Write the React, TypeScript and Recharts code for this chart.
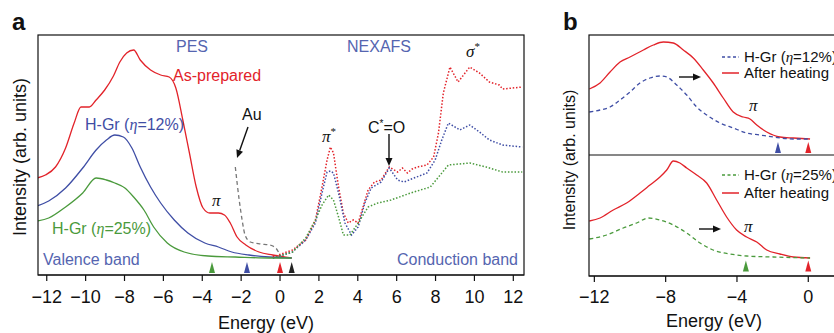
import React from 'react';
import { LineChart, Line, XAxis, YAxis, ReferenceDot } from 'recharts';

const FONT = '"Liberation Sans", Arial, Helvetica, sans-serif';
const SERIF = '"Liberation Serif", "Times New Roman", serif';

const RED = '#e2232a';
const BLUE = '#3f4ea5';
const GREEN = '#4a9a3c';
const LABEL_BLUE = '#5565b0';
const GRAY = '#777777';

// ---------- Panel a : PES (valence band) ----------
const pesRedE = [-12.5, -12.07, -11.55, -11.03, -10.59, -10.24, -9.81, -9.46, -9.02, -8.57, -8.24, -7.89, -7.53, -7.19, -6.66, -6.14, -5.7, -5.36, -5.0, -4.66, -4.31, -3.96, -3.61, -3.17, -2.86, -2.56, -2.21, -1.76, -1.08, -0.38, 0.6];
const pesRedI = [97, 100, 108, 127, 152, 168, 168, 175, 185, 199, 213, 222, 225, 215, 205, 200, 198, 187, 155, 122, 88, 67, 62, 62, 60, 52, 38, 30, 23, 20, 17];

const pesBlueE = [-12.5, -11.9, -11.03, -10.15, -9.46, -8.93, -8.5, -8.06, -7.62, -7.19, -6.66, -6.14, -5.44, -4.74, -3.87, -3.17, -2.48, -1.6, -0.55, 0.6];
const pesBlueI = [69, 74, 87, 107, 125, 135, 140, 138, 127, 108, 88, 72, 55, 42, 32, 28, 23, 20, 18, 17];

const pesGreenE = [-12.5, -11.9, -11.03, -10.15, -9.46, -8.93, -8.5, -7.98, -7.53, -7.0, -6.5, -5.8, -4.93, -3.7, -2.3, -0.55, 0.6];
const pesGreenI = [54, 57, 68, 82, 97, 95, 92, 87, 78, 65, 48, 32, 23, 19, 18, 17, 17];

const auE = [-2.3, -2.1, -1.95, -1.8, -1.53, -1.0, -0.54, -0.22, 0.04];
const auI = [108, 75, 55, 40, 33, 31, 30, 27, 18];

// ---------- Panel a : NEXAFS (conduction band) ----------
const nexRedE = [-0.37, 0.64, 1.32, 1.82, 2.16, 2.42, 2.59, 2.75, 3.01, 3.26, 3.51, 3.77, 4.02, 4.27, 4.53, 4.86, 5.2, 5.62, 6.05, 6.3, 6.55, 6.8, 7.06, 7.56, 7.9, 8.15, 8.4, 8.74, 9.16, 9.76, 10.26, 10.77, 11.28, 11.45, 11.95, 12.46];
const nexRedI = [18, 25, 35, 55, 88, 115, 128, 122, 88, 62, 52, 55, 52, 68, 85, 93, 95, 108, 103, 107, 102, 106, 108, 110, 118, 142, 182, 208, 193, 208, 202, 193, 190, 186, 187, 188];

const nexBlueE = [-0.37, 0.64, 1.32, 1.82, 2.16, 2.42, 2.59, 2.75, 3.01, 3.34, 3.68, 4.02, 4.36, 4.69, 5.2, 5.62, 6.05, 6.38, 6.89, 7.56, 7.98, 8.32, 8.66, 9.25, 9.76, 10.26, 10.77, 11.45, 12.46];
const nexBlueI = [17, 23, 35, 52, 82, 103, 104, 102, 82, 52, 40, 48, 72, 87, 93, 107, 95, 93, 97, 102, 115, 135, 152, 145, 150, 143, 135, 130, 128];

const nexGreenE = [-0.37, 0.64, 1.32, 1.82, 2.16, 2.5, 2.75, 3.01, 3.26, 3.6, 4.02, 4.53, 5.03, 5.71, 6.72, 7.73, 8.24, 8.66, 9.76, 10.6, 11.45, 12.46];
const nexGreenI = [17, 23, 37, 55, 70, 80, 75, 58, 40, 40, 52, 68, 72, 75, 82, 88, 100, 110, 112, 108, 103, 103];

const ticksA = [-12, -10, -8, -6, -4, -2, 0, 2, 4, 6, 8, 10, 12];
const markerEnergiesA = [-3.5, -1.7, 0, 0.6];
const markerColorsA = [GREEN, BLUE, RED, '#222222'];

// ---------- Panel b (top) : H-Gr 12% vs after heating ----------
const bTopRedE = [-12.28, -11.68, -11.12, -10.56, -10.0, -9.25, -8.69, -8.13, -7.57, -7.01, -6.45, -5.89, -5.33, -4.77, -4.21, -3.65, -3.27, -2.89, -2.33, -1.59, -0.84, 0.1];
const bTopRedI = [66, 72, 83, 93, 98, 105, 110, 113, 112, 105, 97, 85, 72, 57, 43, 38, 36, 30, 23, 18, 17, 16];
const bTopBlueE = [-12.28, -11.68, -11.12, -10.56, -10.0, -9.44, -8.88, -8.32, -7.94, -7.38, -6.82, -6.26, -5.7, -4.95, -4.21, -3.46, -2.71, -1.96, -0.84, 0.1];
const bTopBlueI = [43, 45, 48, 55, 63, 72, 77, 79, 78, 70, 60, 48, 40, 32, 27, 22, 20, 18, 16, 16];

// ---------- Panel b (bottom) : H-Gr 25% vs after heating ----------
const bBotRedE = [-12.28, -11.68, -10.94, -10.19, -9.44, -8.88, -8.32, -7.94, -7.57, -7.2, -6.82, -6.26, -5.7, -5.14, -4.58, -4.02, -3.46, -2.89, -2.33, -1.59, -0.84, 0.1];
const bBotRedI = [55, 58, 66, 73, 83, 91, 99, 106, 115, 113, 108, 101, 93, 76, 59, 46, 39, 34, 26, 22, 19, 18];
const bBotGreenE = [-12.28, -11.31, -10.38, -9.63, -8.97, -8.32, -7.57, -6.82, -6.07, -5.33, -4.39, -3.46, -1.96, 0.1];
const bBotGreenI = [37, 41, 48, 53, 58, 56, 51, 43, 33, 26, 22, 20, 19, 18];

const ticksB = [-12, -8, -4, 0];
const markerEnergiesBTop = [-1.7, 0];
const markerColorsBTop = [BLUE, RED];
const markerEnergiesBBot = [-3.5, 0];
const markerColorsBBot = [GREEN, RED];

const zip = (e: number[], v: number[]) => e.map((x, i) => ({ x, y: v[i] }));
const fmt = (v: number) => (v < 0 ? `\u2212${-v}` : `${v}`);

const tri = (color: string) => (p: any) => {
  const { cx, cy } = p;
  if (cx == null || cy == null) return <g />;
  return <path d={`M${cx},${cy - 5.5} L${cx + 3},${cy + 5.5} L${cx - 3},${cy + 5.5} Z`} fill={color} />;
};

const tickStyle = { fontSize: 18, fill: '#111', fontFamily: FONT };

const solid = (data: any[], color: string, key: string) => (
  <Line key={key} data={data} dataKey="y" type="monotone" dot={false} activeDot={false} stroke={color} strokeWidth={1.3} isAnimationActive={false} />
);
const dotted = (data: any[], color: string, key: string) => (
  <Line key={key} data={data} dataKey="y" type="linear" dot={false} activeDot={false} stroke={color} strokeWidth={1.5} strokeDasharray="1.5 1.8" isAnimationActive={false} />
);
const dashed = (data: any[], color: string, key: string) => (
  <Line key={key} data={data} dataKey="y" type="monotone" dot={false} activeDot={false} stroke={color} strokeWidth={1.3} strokeDasharray="4 3" isAnimationActive={false} />
);

const Arrow = ({ x1, y1, x2, y2 }: any) => {
  const a = Math.atan2(y2 - y1, x2 - x1);
  const L = 8, W = 3.5;
  const bx = x2 - L * Math.cos(a), by = y2 - L * Math.sin(a);
  const px = -Math.sin(a) * W, py = Math.cos(a) * W;
  return (
    <g>
      <line x1={x1} y1={y1} x2={bx} y2={by} stroke="#111" strokeWidth={1.4} />
      <path d={`M${x2},${y2} L${bx + px},${by + py} L${bx - px},${by - py} Z`} fill="#111" />
    </g>
  );
};

export default function App() {
  return (
    <div style={{ position: 'absolute', left: 0, top: 0, width: 834, height: 333, overflow: 'hidden', background: '#fff', fontFamily: FONT }}>
      {/* Panel a */}
      <div style={{ position: 'absolute', left: 0, top: 0 }}>
        <LineChart width={540} height={333} margin={{ top: 35, right: 16, bottom: 0, left: 38 }}>
          <XAxis dataKey="x" type="number" domain={[-12.45, 12.55]} ticks={ticksA} tickFormatter={fmt} allowDataOverflow
            height={58} tickSize={6} tickMargin={9} tick={tickStyle} axisLine={{ stroke: '#111', strokeWidth: 1.2 }} tickLine={{ stroke: '#111', strokeWidth: 1.2 }} />
          <YAxis type="number" domain={[0, 240]} hide width={0} allowDataOverflow />
          {solid(zip(pesRedE, pesRedI), RED, 'pr')}
          {solid(zip(pesBlueE, pesBlueI), BLUE, 'pb')}
          {solid(zip(pesGreenE, pesGreenI), GREEN, 'pg')}
          {dashed(zip(auE, auI), GRAY, 'au')}
          {dotted(zip(nexRedE, nexRedI), RED, 'nr')}
          {dotted(zip(nexBlueE, nexBlueI), BLUE, 'nb')}
          {dotted(zip(nexGreenE, nexGreenI), GREEN, 'ng')}
          {markerEnergiesA.map((e, i) => (
            <ReferenceDot key={'ma' + i} x={e} y={7.5} r={4} ifOverflow="visible" shape={tri(markerColorsA[i])} />
          ))}
        </LineChart>
      </div>

      {/* Panel b top */}
      <div style={{ position: 'absolute', left: 560, top: 0 }}>
        <LineChart width={300} height={160} margin={{ top: 35, right: 12.5, bottom: 0, left: 29 }}>
          <XAxis dataKey="x" type="number" domain={[-12.3, 2.2]} ticks={ticksB} allowDataOverflow
            height={5} tickSize={5} tick={false} axisLine={{ stroke: '#111', strokeWidth: 1.2 }} tickLine={{ stroke: '#111', strokeWidth: 1.2 }} />
          <YAxis type="number" domain={[0, 120]} hide width={0} allowDataOverflow />
          {solid(zip(bTopRedE, bTopRedI), RED, 'tr')}
          {dashed(zip(bTopBlueE, bTopBlueI), BLUE, 'tb')}
          {markerEnergiesBTop.map((e, i) => (
            <ReferenceDot key={'mt' + i} x={e} y={7.5} r={4} ifOverflow="visible" shape={tri(markerColorsBTop[i])} />
          ))}
        </LineChart>
      </div>

      {/* Panel b bottom */}
      <div style={{ position: 'absolute', left: 560, top: 0 }}>
        <LineChart width={300} height={333} margin={{ top: 155, right: 12.5, bottom: 0, left: 29 }}>
          <XAxis dataKey="x" type="number" domain={[-12.3, 2.2]} ticks={ticksB} tickFormatter={fmt} allowDataOverflow
            height={57} tickSize={6} tickMargin={8} tick={tickStyle} axisLine={{ stroke: '#111', strokeWidth: 1.2 }} tickLine={{ stroke: '#111', strokeWidth: 1.2 }} />
          <YAxis type="number" domain={[0, 121]} hide width={0} allowDataOverflow />
          {solid(zip(bBotRedE, bBotRedI), RED, 'br')}
          {dashed(zip(bBotGreenE, bBotGreenI), GREEN, 'bg')}
          {markerEnergiesBBot.map((e, i) => (
            <ReferenceDot key={'mb' + i} x={e} y={10} r={4} ifOverflow="visible" shape={tri(markerColorsBBot[i])} />
          ))}
        </LineChart>
      </div>

      {/* Annotations */}
      <svg width={834} height={333} style={{ position: 'absolute', left: 0, top: 0, pointerEvents: 'none' }}>
        <rect x={38} y={35} width={486} height={240} fill="none" stroke="#111" strokeWidth={1.2} />
        <rect x={589} y={35} width={260} height={241} fill="none" stroke="#111" strokeWidth={1.2} />

        <text x={12} y={30} fontSize={24} fontWeight="bold" fill="#111" fontFamily={FONT}>a</text>
        <text x={563} y={30} fontSize={24} fontWeight="bold" fill="#111" fontFamily={FONT}>b</text>

        <text transform="translate(26,157) rotate(-90)" textAnchor="middle" fontSize={18} fill="#111" fontFamily={FONT}>Intensity (arb. units)</text>
        <text x={266} y={329} textAnchor="middle" fontSize={18} fill="#111" fontFamily={FONT}>Energy (eV)</text>
        <text transform="translate(575,160) rotate(-90)" textAnchor="middle" fontSize={16} fill="#111" fontFamily={FONT}>Intensity (arb. units)</text>
        <text x={714} y={327} textAnchor="middle" fontSize={18} fill="#111" fontFamily={FONT}>Energy (eV)</text>

        <g fontFamily={FONT} fontSize={16}>
          <text x={192} y={52} textAnchor="middle" fill={LABEL_BLUE}>PES</text>
          <text x={379} y={52} textAnchor="middle" fill={LABEL_BLUE}>NEXAFS</text>
          <text x={173} y={81} fill={RED}>As-prepared</text>
          <text x={85} y={130} fill={BLUE}>H-Gr (<tspan fontFamily={SERIF} fontStyle="italic">η</tspan>=12%)</text>
          <text x={52} y={234} fill={GREEN}>H-Gr (<tspan fontFamily={SERIF} fontStyle="italic">η</tspan>=25%)</text>
          <text x={43} y={265} fill={LABEL_BLUE}>Valence band</text>
          <text x={518} y={265} textAnchor="end" fill={LABEL_BLUE}>Conduction band</text>
          <text x={242} y={120} fill="#111">Au</text>
          <text x={368} y={133} fill="#111">C<tspan fontSize={10} dy={-6}>*</tspan><tspan dy={6}>=O</tspan></text>
        </g>
        <g fontFamily={SERIF} fontStyle="italic" fontSize={17} fill="#111">
          <text x={212} y={206}>π</text>
          <text x={322} y={142}>π<tspan fontSize={11} fontStyle="normal" dy={-7}>*</tspan></text>
          <text x={466} y={57}>σ<tspan fontSize={11} fontStyle="normal" dy={-7}>*</tspan></text>
          <text x={749} y={111}>π</text>
          <text x={744} y={232}>π</text>
        </g>

        <Arrow x1={248} y1={127} x2={237} y2={158} />
        <Arrow x1={389} y1={134} x2={389} y2={166} />
        <Arrow x1={679} y1={77} x2={701} y2={77} />
        <Arrow x1={699} y1={229} x2={721} y2={229} />

        {/* Panel b legends */}
        <line x1={722} y1={57} x2={739} y2={57} stroke={BLUE} strokeWidth={1.3} strokeDasharray="3 2.5" />
        <line x1={722} y1={73} x2={739} y2={73} stroke={RED} strokeWidth={1.5} />
        <line x1={722} y1={175} x2={739} y2={175} stroke={GREEN} strokeWidth={1.3} strokeDasharray="3 2.5" />
        <line x1={722} y1={193} x2={739} y2={193} stroke={RED} strokeWidth={1.5} />
        <g fontFamily={FONT} fontSize={15} fill="#111">
          <text x={744} y={62}>H-Gr (<tspan fontFamily={SERIF} fontStyle="italic">η</tspan>=12%)</text>
          <text x={744} y={78}>After heating</text>
          <text x={744} y={180}>H-Gr (<tspan fontFamily={SERIF} fontStyle="italic">η</tspan>=25%)</text>
          <text x={744} y={198}>After heating</text>
        </g>
      </svg>
    </div>
  );
}
